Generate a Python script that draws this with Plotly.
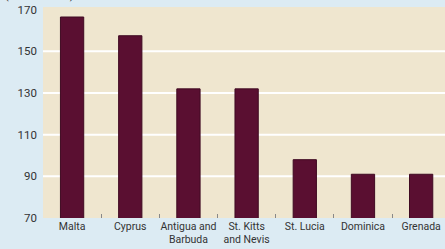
import plotly.graph_objects as go

categories = ["Malta", "Cyprus", "Antigua and<br>Barbuda", "St. Kitts<br>and Nevis",
              "St. Lucia", "Dominica", "Grenada"]
values = [166.5, 157.5, 132, 132, 98, 91, 91]
y_ticks = [70, 90, 110, 130, 150, 170]
grid_values = [90, 110, 130, 150]
unit_label = "(US$ millions)"

FONT = "Roboto, Liberation Sans, sans-serif"

fig = go.Figure(go.Bar(
    x=categories, y=values,
    marker=dict(color="#5a0f31", line=dict(color="#3f0a22", width=1)),
    width=0.4,
))

for g in grid_values:
    fig.add_shape(type="line", xref="paper", yref="y", x0=0, x1=1, y0=g, y1=g,
                  line=dict(color="white", width=2), layer="below")

fig.add_annotation(text=unit_label, xref="paper", yref="paper", x=-0.1, y=1.0,
                   xanchor="left", yanchor="bottom", yshift=3, showarrow=False,
                   font=dict(family=FONT, size=11, color="#333"))

fig.update_layout(
    width=445, height=249,
    margin=dict(l=43, r=0, t=7, b=31, autoexpand=False),
    paper_bgcolor="#dcebf3",
    plot_bgcolor="#efe6cf",
    showlegend=False,
    font=dict(family=FONT, size=10.5, color="#333"),
    xaxis=dict(range=[-0.5, 6.41], showgrid=False, ticks="inside", ticklen=4,
               tickcolor="#888", tickson="boundaries", showline=False,
               tickangle=0, automargin=False, fixedrange=True),
    yaxis=dict(range=[70, 171.3], tickvals=y_ticks, showgrid=False, zeroline=False,
               ticks="", automargin=False, fixedrange=True,
               ticklabelstandoff=5, tickfont=dict(size=11.5)),
    bargap=0.6,
)

fig.write_html("out.html", config={"displayModeBar": False},
               post_script="document.body.style.margin='0';document.body.style.overflow='hidden';")
